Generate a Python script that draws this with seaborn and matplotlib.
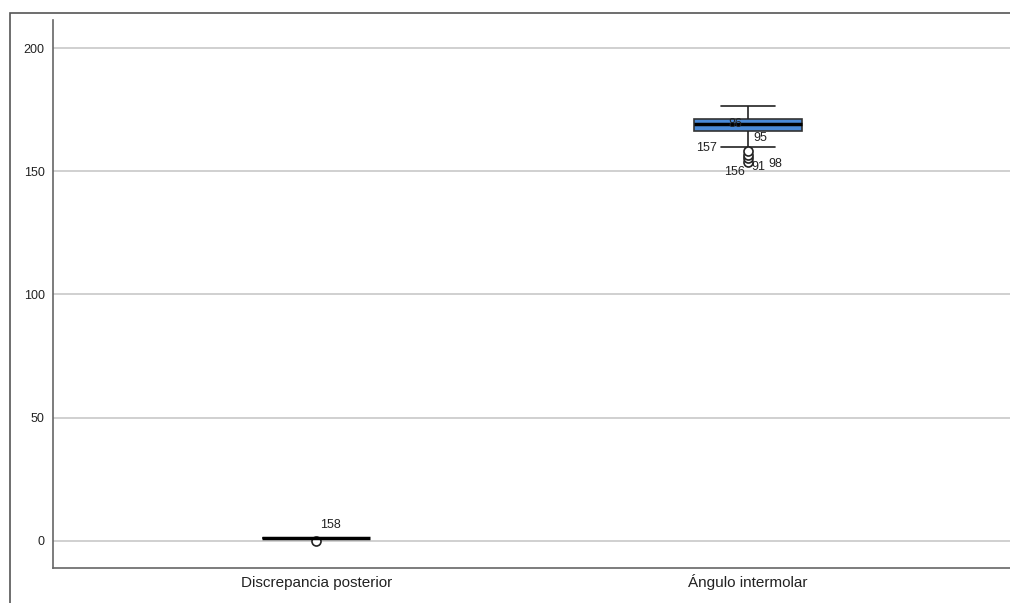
import matplotlib
matplotlib.use('Agg')
import matplotlib.pyplot as plt
import seaborn as sns
import pandas as pd
from matplotlib.patches import Rectangle

# datos
categorias = ['Discrepancia posterior', 'Ángulo intermolar']
discrepancia = [1.0] * 20 + [0.0]
angulo = [153.6, 155.2, 156.8, 158.3, 159.8, 166.3, 167.0, 167.8, 168.4, 168.9,
          169.2, 169.6, 170.0, 170.5, 171.0, 171.4, 172.3, 173.2, 174.3, 175.4, 176.5]

# etiquetas de casos atipicos
etiquetas_txt = ['158', '86', '95', '157', '156', '91', '98']
etiquetas_x = [0.032, 0.972, 1.029, 0.904, 0.969, 1.024, 1.064]
etiquetas_y = [6.5, 169.2, 163.5, 159.4, 149.7, 151.7, 152.9]

df = pd.DataFrame({
    'variable': [categorias[0]] * len(discrepancia) + [categorias[1]] * len(angulo),
    'valor': discrepancia + angulo,
})

sns.set_style('white')
plt.rcParams['font.family'] = ['Liberation Sans', 'DejaVu Sans']

fig = plt.figure(figsize=(10.1, 6.03), dpi=100)
ax = fig.add_axes([53 / 1010, 35 / 603, 1 - 53 / 1010, 548 / 603])

# marco exterior
fig.patches.append(Rectangle((10 / 1010, -0.1), 1.1, (603 - 13) / 603 + 0.1,
                             transform=fig.transFigure, fill=False,
                             edgecolor='#555555', linewidth=1.2, zorder=0))

sns.boxplot(data=df, x='variable', y='valor', order=categorias, ax=ax,
            width=0.25, color='#4a8ad8', saturation=1, linewidth=1.2,
            linecolor='#333333',
            medianprops=dict(color='black', linewidth=2.5),
            whiskerprops=dict(color='#222222'),
            capprops=dict(color='#222222'),
            flierprops=dict(marker='o', markersize=6.5, markerfacecolor='white',
                            markeredgecolor='#222222', markeredgewidth=1.2))

for t, x, y in zip(etiquetas_txt, etiquetas_x, etiquetas_y):
    ax.text(x, y, t, ha='center', va='center', fontsize=9, color='#222222', zorder=5)

ax.set_xlim(-0.61, 1.608)
ax.set_ylim(-11, 211.4)
ax.set_yticks([0, 50, 100, 150, 200])
ax.yaxis.grid(True, color='#c8c8c8', linewidth=1.2)
ax.set_axisbelow(True)
ax.tick_params(axis='y', length=0, labelsize=9, pad=6, colors='#222222')
ax.tick_params(axis='x', length=0, labelsize=11, pad=14, colors='#222222')
for lbl in ax.get_xticklabels():
    lbl.set_verticalalignment('baseline')
ax.set_xlabel('')
ax.set_ylabel('')
for s in ['top', 'right']:
    ax.spines[s].set_visible(False)
for s in ['left', 'bottom']:
    ax.spines[s].set_color('#666666')
    ax.spines[s].set_linewidth(1.2)

fig.savefig('out.png', dpi=100)
